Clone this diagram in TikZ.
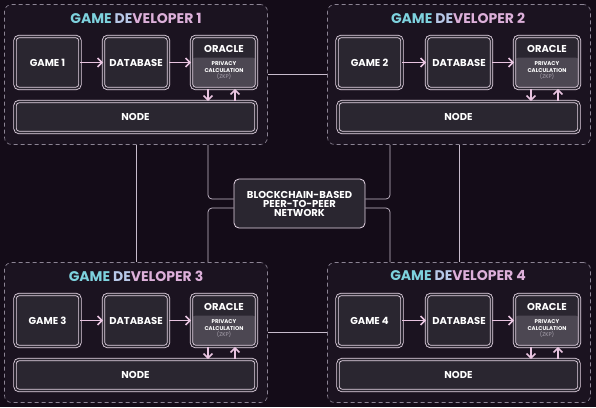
\documentclass[tikz,border=0pt]{standalone}
\usepackage{fontspec}
\setmainfont{Poppins}
\usetikzlibrary{arrows.meta}
\definecolor{bgc}{HTML}{140C18}
\definecolor{framefill}{HTML}{1B1320}
\definecolor{framedash}{HTML}{8C8494}
\definecolor{boxfill}{HTML}{2A2630}
\definecolor{boxline}{HTML}{E6D6E6}
\definecolor{calcfill}{HTML}{4C4752}
\definecolor{zkpc}{HTML}{A8A2AE}
\definecolor{arrowc}{HTML}{E8C4E0}
\definecolor{wirec}{HTML}{C8BCCC}
\definecolor{titlea}{HTML}{7ED2DE}
\definecolor{titleb}{HTML}{B8C8E8}
\definecolor{titlec}{HTML}{DDB0DA}
\newcommand{\devtitle}[1]{\textcolor{titlea}{GAME }\textcolor{titleb}{DE}\textcolor{titlec}{VELOPER #1}}
\newcommand{\zkptext}{PRIVACY\\CALCULATION\\{\color{zkpc}\mdseries (ZKP)}}

\begin{document}
\begin{tikzpicture}[
		x=1pt, y=-1pt,
		every node/.style={font=\bfseries, text=white},
		frame/.style={rectangle, draw=framedash, dash pattern=on 4pt off 3pt, fill=framefill, rounded corners=7pt, line width=0.6pt, minimum width=263pt, minimum height=140pt},
		box/.style={rectangle, draw=boxline, double=boxfill, double distance=1.6pt, line width=0.8pt, fill=boxfill, rounded corners=4pt, minimum width=65pt, minimum height=52pt, inner sep=0pt, font=\bfseries\fontsize{10}{10}\selectfont},
		oracle/.style={box, path picture={\fill[calcfill] ([yshift=-21pt]path picture bounding box.north west) rectangle (path picture bounding box.south east);}},
		nodebar/.style={box, minimum width=241pt, minimum height=31pt},
		calc/.style={align=center, inner sep=0pt, font=\bfseries\fontsize{5.5}{6.5}\selectfont},
		title/.style={font=\bfseries\fontsize{14}{14}\selectfont},
		net/.style={rectangle, draw=boxline, line width=0.8pt, fill=boxfill, rounded corners=5pt, minimum width=131pt, minimum height=49pt, align=center, font=\bfseries\fontsize{10}{9}\selectfont},
		arr/.style={draw=arrowc, line width=1.5pt, -{Straight Barb[length=4.5pt,width=9pt]}},
		wire/.style={draw=wirec, line width=0.7pt}
	]
  \useasboundingbox[fill=bgc] (0,0) rectangle (596,407);

  % developer frames
  \node (fr1) [frame] at (136,74.5) {};
  \node (fr2) [frame] at (459,74.5) {};
  \node (fr3) [frame] at (136,332.5) {};
  \node (fr4) [frame] at (459,332.5) {};

  % wires to the network
  \coordinate (lx) at (208,0);
  \coordinate (rx) at (390,0);
  \node (net) [net] at (299.5,203.5) {BLOCKCHAIN-BASED\\PEER-TO-PEER\\NETWORK};
  \draw[wire] (fr1.east) -- (fr2.west);
  \draw[wire] (fr3.east) -- (fr4.west);
  \draw[wire] (fr1.south -| fr1.center) -- (fr3.north -| fr3.center);
  \draw[wire] (fr2.south -| fr2.center) -- (fr4.north -| fr4.center);
  \draw[wire, rounded corners=4pt] (fr1.south -| lx) |- ([yshift=4.5pt]net.west);
  \draw[wire, rounded corners=4pt] (fr3.north -| lx) |- ([yshift=-4.5pt]net.west);
  \draw[wire, rounded corners=4pt] (fr2.south -| rx) |- ([yshift=4.5pt]net.east);
  \draw[wire, rounded corners=4pt] (fr4.north -| rx) |- ([yshift=-4.5pt]net.east);

  % developer 1
  \node (t1) [title] at (136,18) {\devtitle{1}};
  \node (g1) [box] at (47.5,62.5) {GAME 1};
  \node (db1) [box] at (136,62.5) {DATABASE};
  \node (or1) [oracle] at (224,62.5) {};
  \node (oh1) [font=\bfseries\fontsize{10}{10}\selectfont] at ([yshift=13.5pt]or1.center) {ORACLE};
  \node (pc1) [calc] at ([yshift=-8.5pt]or1.center) {\zkptext};
  \node (nd1) [nodebar] at (135.5,117) {NODE};
  \draw[arr] (g1) -- (db1);
  \draw[arr] (db1) -- (or1);
  \draw[arr] ([xshift=-16pt]or1.south) -- ([xshift=-16pt]or1.south |- nd1.north);
  \draw[arr] ([xshift=11pt]or1.south |- nd1.north) -- ([xshift=11pt]or1.south);

  % developer 2
  \node (t2) [title] at (458,18) {\devtitle{2}};
  \node (g2) [box] at (369.5,62.5) {GAME 2};
  \node (db2) [box] at (459,62.5) {DATABASE};
  \node (or2) [oracle] at (547,62.5) {};
  \node (oh2) [font=\bfseries\fontsize{10}{10}\selectfont] at ([yshift=13.5pt]or2.center) {ORACLE};
  \node (pc2) [calc] at ([yshift=-8.5pt]or2.center) {\zkptext};
  \node (nd2) [nodebar] at (458.5,117) {NODE};
  \draw[arr] (g2) -- (db2);
  \draw[arr] (db2) -- (or2);
  \draw[arr] ([xshift=-16pt]or2.south) -- ([xshift=-16pt]or2.south |- nd2.north);
  \draw[arr] ([xshift=11pt]or2.south |- nd2.north) -- ([xshift=11pt]or2.south);

  % developer 3
  \node (t3) [title] at (136,276) {\devtitle{3}};
  \node (g3) [box] at (47.5,320.5) {GAME 3};
  \node (db3) [box] at (136,320.5) {DATABASE};
  \node (or3) [oracle] at (224,320.5) {};
  \node (oh3) [font=\bfseries\fontsize{10}{10}\selectfont] at ([yshift=13.5pt]or3.center) {ORACLE};
  \node (pc3) [calc] at ([yshift=-8.5pt]or3.center) {\zkptext};
  \node (nd3) [nodebar] at (135.5,375) {NODE};
  \draw[arr] (g3) -- (db3);
  \draw[arr] (db3) -- (or3);
  \draw[arr] ([xshift=-16pt]or3.south) -- ([xshift=-16pt]or3.south |- nd3.north);
  \draw[arr] ([xshift=11pt]or3.south |- nd3.north) -- ([xshift=11pt]or3.south);

  % developer 4
  \node (t4) [title] at (458,276) {\devtitle{4}};
  \node (g4) [box] at (369.5,320.5) {GAME 4};
  \node (db4) [box] at (459,320.5) {DATABASE};
  \node (or4) [oracle] at (547,320.5) {};
  \node (oh4) [font=\bfseries\fontsize{10}{10}\selectfont] at ([yshift=13.5pt]or4.center) {ORACLE};
  \node (pc4) [calc] at ([yshift=-8.5pt]or4.center) {\zkptext};
  \node (nd4) [nodebar] at (458.5,375) {NODE};
  \draw[arr] (g4) -- (db4);
  \draw[arr] (db4) -- (or4);
  \draw[arr] ([xshift=-16pt]or4.south) -- ([xshift=-16pt]or4.south |- nd4.north);
  \draw[arr] ([xshift=11pt]or4.south |- nd4.north) -- ([xshift=11pt]or4.south);
\end{tikzpicture}
\end{document}
